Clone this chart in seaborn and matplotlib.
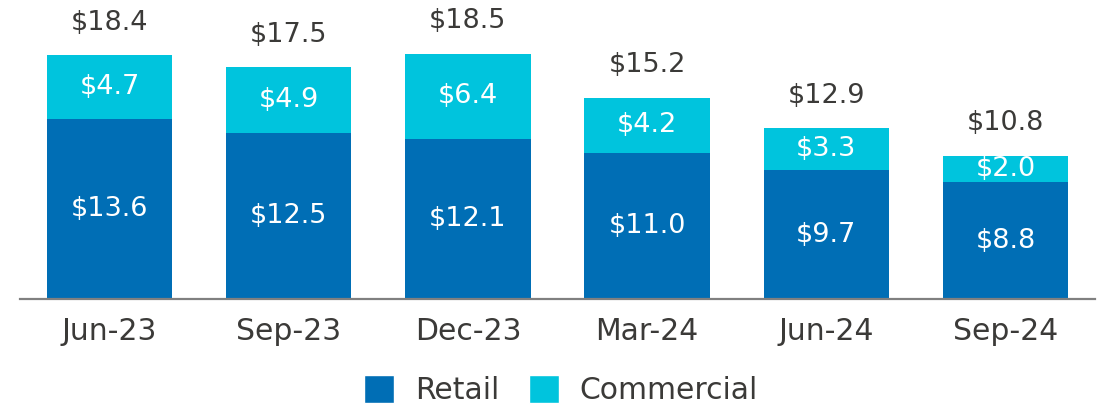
import matplotlib
matplotlib.use("Agg")
import matplotlib.pyplot as plt
import seaborn as sns
import pandas as pd
from matplotlib.patches import Patch

periods = ["Jun-23", "Sep-23", "Dec-23", "Mar-24", "Jun-24", "Sep-24"]
retail = [13.6, 12.5, 12.1, 11.0, 9.7, 8.8]
commercial = [4.7, 4.9, 6.4, 4.2, 3.3, 2.0]
totals = [18.4, 17.5, 18.5, 15.2, 12.9, 10.8]

RETAIL_C = "#006EB5"
COMM_C = "#00C4DD"
TEXT_C = "#3b3a38"

sns.set_theme(style="white")
plt.rcParams["font.family"] = ["DejaVu Sans"]

df = pd.DataFrame({"period": periods, "retail": retail,
                   "commercial": commercial, "total": totals})

fig = plt.figure(figsize=(11.02, 4.09), dpi=100)
ax = fig.add_axes([20 / 1102, (409 - 299) / 409, 1075 / 1102, 299 / 409])

sns.barplot(data=df, x="period", y="total", color=COMM_C, width=0.7,
            saturation=1, ax=ax, linewidth=0)
comm_patches = list(ax.patches)
sns.barplot(data=df, x="period", y="retail", color=RETAIL_C, width=0.7,
            saturation=1, ax=ax, linewidth=0)

ax.set_xlim(-0.5, 5.5)
ax.set_ylim(0, 299 / 13.25)

for i in range(len(periods)):
    ax.text(i, retail[i] / 2, f"${retail[i]:.1f}", ha="center", va="center",
            color="white", fontsize=19.5)
    t = ax.text(i, (retail[i] + totals[i]) / 2, f"${commercial[i]:.1f}",
                ha="center", va="center", color="white", fontsize=19.5, zorder=1.5)
    t.set_clip_path(comm_patches[i])
    ax.annotate(f"${totals[i]:.1f}", xy=(i, totals[i]), xytext=(0, 14),
                textcoords="offset points", ha="center", va="bottom",
                color=TEXT_C, fontsize=19.5)

for s in ["top", "right", "left"]:
    ax.spines[s].set_visible(False)
ax.spines["bottom"].set_color("#808080")
ax.spines["bottom"].set_linewidth(1.6)
ax.set_yticks([])
ax.set_xlabel("")
ax.set_ylabel("")
ax.tick_params(axis="x", length=0, pad=13, labelsize=21.5, labelcolor=TEXT_C)

handles = [Patch(facecolor=RETAIL_C, label="Retail"),
           Patch(facecolor=COMM_C, label="Commercial")]
fig.legend(handles=handles, loc="center", bbox_to_anchor=(561 / 1102, 1 - 390 / 409),
           ncol=2, frameon=False, fontsize=21.5, labelcolor=TEXT_C,
           handlelength=1.0, handleheight=1.1, handletextpad=0.7, columnspacing=1.0)

fig.savefig("out.png", dpi=100)
